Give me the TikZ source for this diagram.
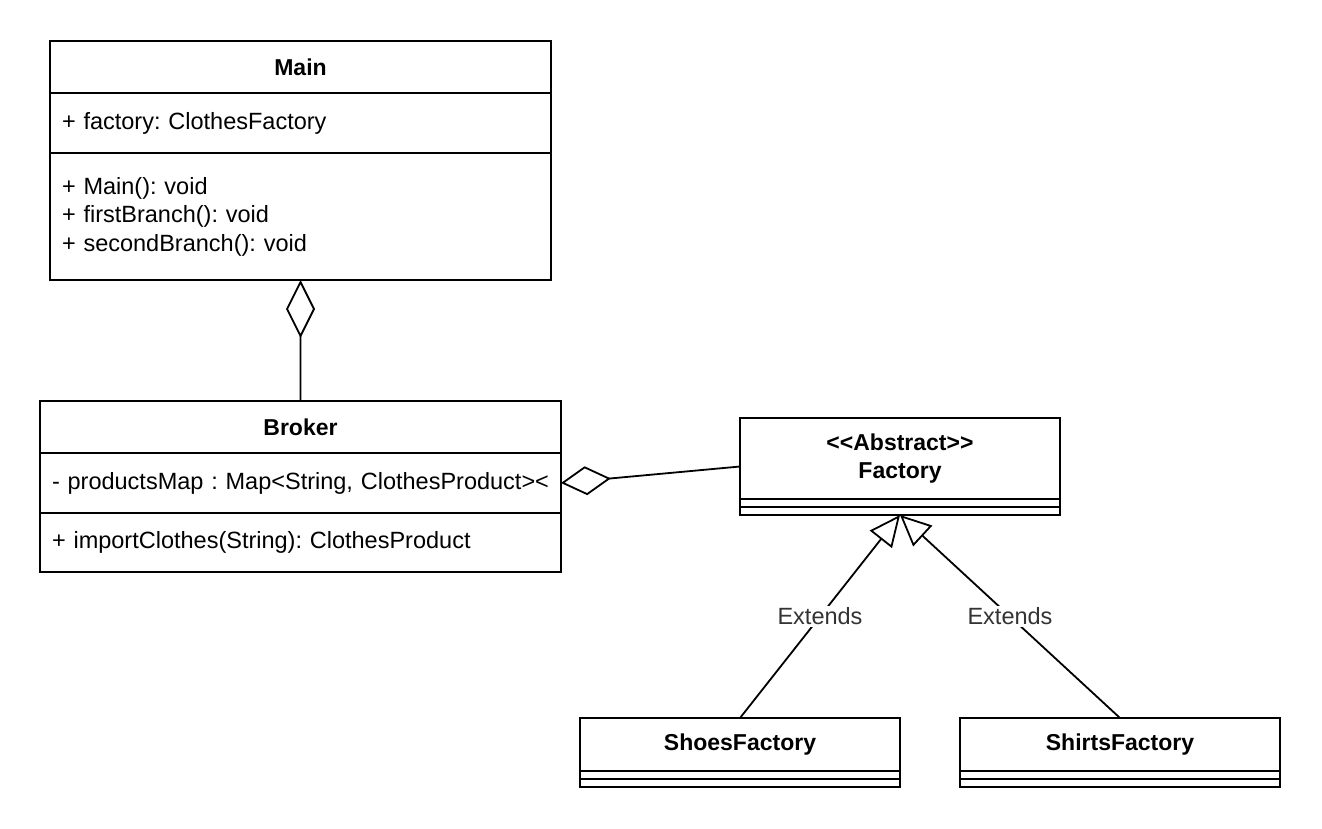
\documentclass[tikz,border=0pt]{standalone}
\usepackage{fontspec}
\setmainfont{Liberation Sans}
\frenchspacing
\usetikzlibrary{positioning, arrows.meta, calc}

\begin{document}
\begin{tikzpicture}[
            x=1bp, y=-1bp,
            font=\fontsize{23.5bp}{28.5bp}\selectfont,
            cls/.style={rectangle, draw, line width=2bp, outer sep=0pt, inner sep=0pt, fill=white},
            head/.style={cls, font=\fontsize{23bp}{28bp}\selectfont\bfseries, align=center},
            memb/.style={cls, inner xsep=12bp, align=left},
            bar/.style={cls, minimum height=8bp},
            link/.style={line width=1.8bp},
            aggr/.style={link, -{Diamond[fill=white, length=#1, width=29bp]}},
            ext/.style={link, -{Triangle[fill=white, length=31bp, width=28bp]}},
            lbl/.style={fill=white, text=black!80, inner sep=2bp},
        ]
            \useasboundingbox (0,0) rectangle (1322,828);

            % Main class
            \node[head, minimum width=501bp, minimum height=52bp, anchor=north west] (mainhead) at (50,41) {Main};
            \node[memb, text width=477bp, minimum height=60bp, below=0pt of mainhead] (mainattr) {+ factory: ClothesFactory};
            \node[memb, text width=477bp, minimum height=127bp, below=0pt of mainattr] (mainops)
                {+ Main(): void\\+ firstBranch(): void\\+ secondBranch(): void};

            % Broker class
            \node[head, minimum width=521bp, minimum height=52bp, anchor=north west] (brokerhead) at (40,401) {Broker};
            \node[memb, text width=497bp, minimum height=60bp, below=0pt of brokerhead] (brokerattr)
                {\mbox{- productsMap : Map<String, ClothesProduct><}};
            \node[memb, text width=497bp, minimum height=59bp, below=0pt of brokerattr] (brokerops)
                {+ importClothes(String): ClothesProduct};

            % Abstract factory and its subclasses
            \node[head, minimum width=320bp, minimum height=81bp, anchor=north west] (facthead) at (740,418)
                {{<}{<}Abstract{>}{>}\\Factory};
            \node[bar, minimum width=320bp, below=0pt of facthead] (factattr) {};
            \node[bar, minimum width=320bp, below=0pt of factattr] (factops) {};

            \node[head, minimum width=320bp, minimum height=53bp, anchor=north west] (shoeshead) at (580,718) {ShoesFactory};
            \node[bar, minimum width=320bp, below=0pt of shoeshead] (shoesattr) {};
            \node[bar, minimum width=320bp, below=0pt of shoesattr] (shoesops) {};

            \node[head, minimum width=320bp, minimum height=53bp, anchor=north west] (shirtshead) at (960,718) {ShirtsFactory};
            \node[bar, minimum width=320bp, below=0pt of shirtshead] (shirtsattr) {};
            \node[bar, minimum width=320bp, below=0pt of shirtsattr] (shirtsops) {};

            \coordinate (factin) at ($(facthead.north west)!0.5!(factops.south west)$);

            % Aggregations
            \draw[aggr=58bp] (brokerhead.north) -- (mainops.south);
            \draw[aggr=50bp] (factin) -- (brokerattr.east);

            % Generalizations
            \draw[ext] (shoeshead.north) -- node[lbl] {Extends} (factops.south);
            \draw[ext] (shirtshead.north) -- node[lbl] {Extends} (factops.south);
        \end{tikzpicture}
\end{document}
